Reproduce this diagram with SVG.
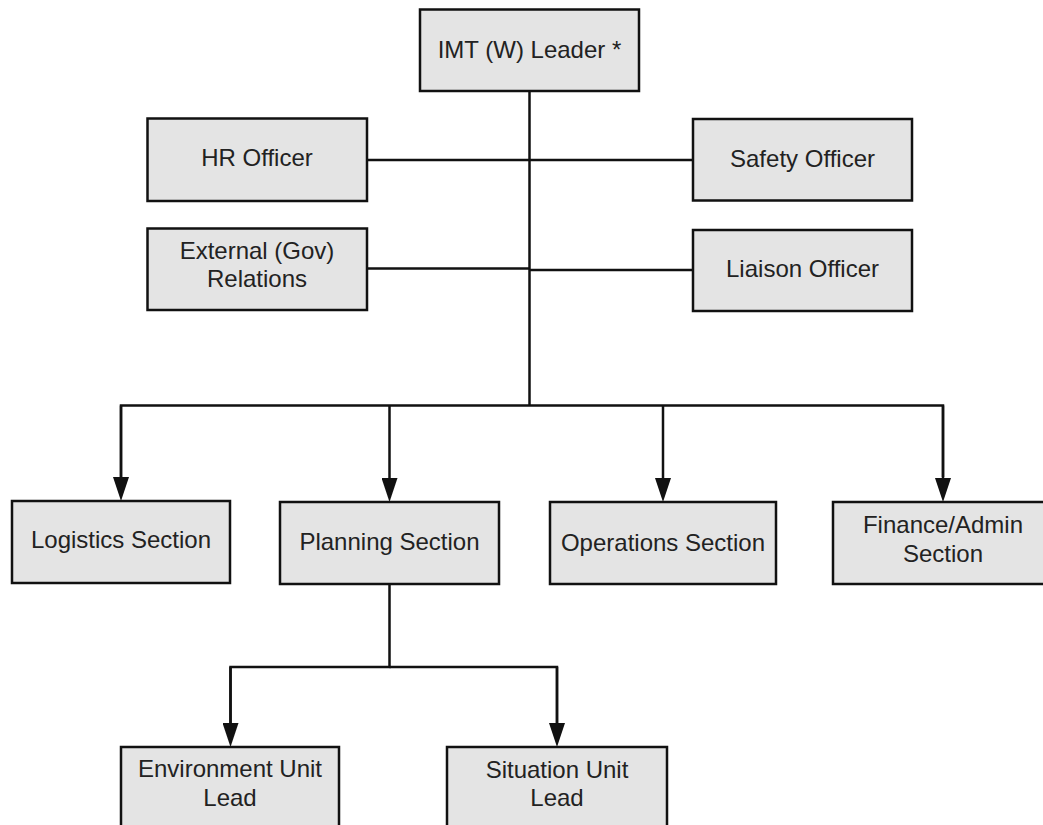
<svg xmlns="http://www.w3.org/2000/svg" width="1043" height="825" viewBox="0 0 1043 825">
<style>
.box{fill:#e4e4e4;stroke:#111;stroke-width:2.5}
.lbl{font-family:"Liberation Sans",Arial,sans-serif;font-size:24px;fill:#222;text-anchor:middle}
.conn{fill:none;stroke:#111;stroke-width:2.5}
</style>
<defs>
<marker id="arr" markerUnits="userSpaceOnUse" markerWidth="24" markerHeight="16" refX="0" refY="8" orient="auto" viewBox="0 0 24 16">
<path d="M0,0 L24,8 L0,16 Z" fill="#111"/>
</marker>
</defs>
<rect width="1043" height="825" fill="#fff"/>
<g id="connectors">
<line class="conn" x1="529.5" y1="91" x2="529.5" y2="406"/>
<line class="conn" x1="367" y1="160" x2="693" y2="160"/>
<line class="conn" x1="367" y1="268.5" x2="529.5" y2="268.5"/>
<line class="conn" x1="529.5" y1="270" x2="693" y2="270"/>
<path class="conn" d="M121,477 V405.5 H943 V477"/>
<line class="conn" x1="121" y1="405.5" x2="121" y2="477" marker-end="url(#arr)"/>
<line class="conn" x1="389.5" y1="405.5" x2="389.5" y2="478" marker-end="url(#arr)"/>
<line class="conn" x1="663" y1="405.5" x2="663" y2="478" marker-end="url(#arr)"/>
<line class="conn" x1="943" y1="405.5" x2="943" y2="478" marker-end="url(#arr)"/>
<path class="conn" d="M389.5,584 V667 H230.5 V723"/>
<path class="conn" d="M389.5,667 H557 V723"/>
<line class="conn" x1="230.5" y1="667" x2="230.5" y2="723" marker-end="url(#arr)"/>
<line class="conn" x1="557" y1="667" x2="557" y2="723" marker-end="url(#arr)"/>
</g>
<g id="imt-leader">
<rect class="box" x="420" y="9.5" width="219" height="81.5"/>
<text class="lbl" x="529.5" y="58">IMT (W) Leader *</text>
</g>
<g id="hr-officer">
<rect class="box" x="147.5" y="118.5" width="219.5" height="82.5"/>
<text class="lbl" x="257" y="166">HR Officer</text>
</g>
<g id="safety-officer">
<rect class="box" x="693" y="119" width="219" height="81.5"/>
<text class="lbl" x="802.5" y="166.5">Safety Officer</text>
</g>
<g id="external-relations">
<rect class="box" x="147.5" y="228.5" width="219.5" height="81.5"/>
<text class="lbl" x="257" y="259">External (Gov)</text>
<text class="lbl" x="257" y="287">Relations</text>
</g>
<g id="liaison-officer">
<rect class="box" x="693" y="230" width="219" height="81"/>
<text class="lbl" x="802.5" y="277">Liaison Officer</text>
</g>
<g id="logistics-section">
<rect class="box" x="12" y="501" width="218" height="82"/>
<text class="lbl" x="121" y="548">Logistics Section</text>
</g>
<g id="planning-section">
<rect class="box" x="280" y="502" width="219" height="82"/>
<text class="lbl" x="389.5" y="550">Planning Section</text>
</g>
<g id="operations-section">
<rect class="box" x="550" y="502" width="226" height="82"/>
<text class="lbl" x="663" y="551">Operations Section</text>
</g>
<g id="finance-admin-section">
<rect class="box" x="833" y="502" width="220" height="82"/>
<text class="lbl" x="943" y="533">Finance/Admin</text>
<text class="lbl" x="943" y="561.5">Section</text>
</g>
<g id="environment-unit-lead">
<rect class="box" x="121" y="747" width="218" height="100"/>
<text class="lbl" x="230" y="777">Environment Unit</text>
<text class="lbl" x="230" y="806">Lead</text>
</g>
<g id="situation-unit-lead">
<rect class="box" x="447" y="747" width="220" height="100"/>
<text class="lbl" x="557" y="778">Situation Unit</text>
<text class="lbl" x="557" y="806">Lead</text>
</g>
</svg>
